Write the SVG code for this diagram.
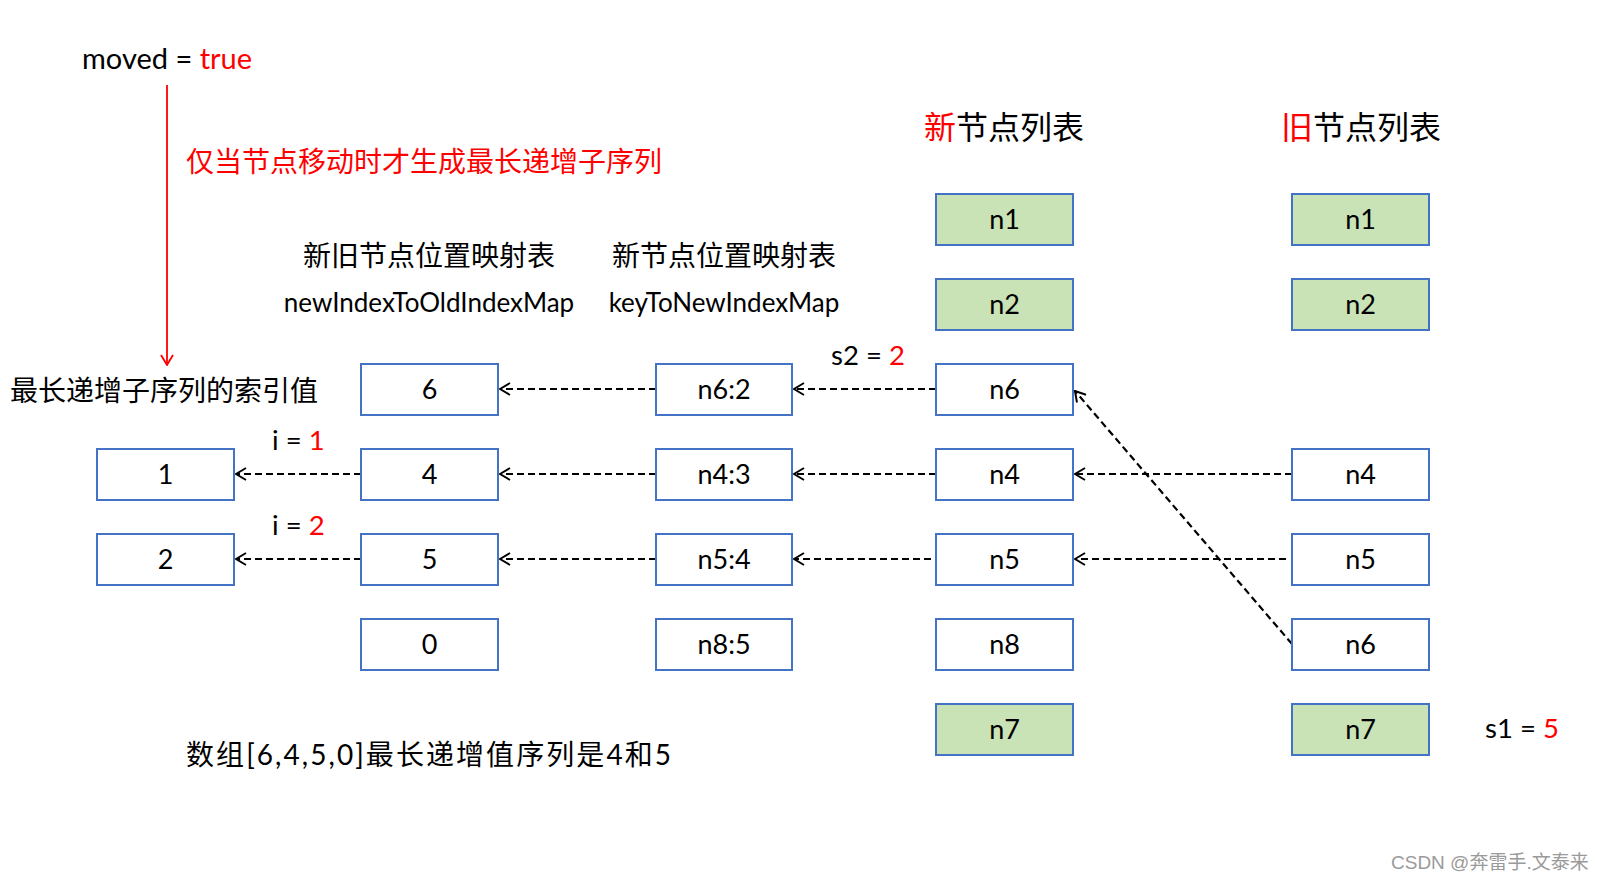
<svg xmlns="http://www.w3.org/2000/svg" width="1604" height="882" viewBox="0 0 1604 882">
<style>
.box{fill:#fff;stroke:#4472C4;stroke-width:2}
.g{fill:#C9E3B7}
.lbl{font-family:Lato,"Noto Sans CJK SC",sans-serif;font-size:27px;fill:#000;text-anchor:middle}
.cn{font-family:Lato,"Noto Sans CJK SC",sans-serif;font-size:28px;fill:#000}
.en{font-family:Lato,"Noto Sans CJK SC",sans-serif;font-size:26px;fill:#000}
.red{fill:#FF0000}
.c{stroke:#000;stroke-width:2.2;stroke-dasharray:7,4;fill:none;marker-end:url(#ah)}
</style>
<defs>
<marker id="ah" viewBox="-12 -7 13 14" refX="0" refY="0" markerWidth="13" markerHeight="14" markerUnits="userSpaceOnUse" orient="auto">
<path d="M-10,-6 L0,0 L-10,6" fill="none" stroke="#000" stroke-width="2"/>
</marker>
<marker id="rah" viewBox="-12 -7 13 14" refX="0" refY="0" markerWidth="13" markerHeight="14" markerUnits="userSpaceOnUse" orient="auto">
<path d="M-10,-6 L0,0 L-10,6" fill="none" stroke="#FF0000" stroke-width="1.8"/>
</marker>
</defs>
<rect width="1604" height="882" fill="#fff"/>

<g id="titles">
<text x="82" y="69" class="cn" style="font-size:29px">moved = <tspan class="red">true</tspan></text>
<text x="186" y="172" class="cn red">仅当节点移动时才生成最长递增子序列</text>
<text x="429" y="266" class="cn" text-anchor="middle">新旧节点位置映射表</text>
<text x="429" y="312" class="en" text-anchor="middle">newIndexToOldIndexMap</text>
<text x="724" y="266" class="cn" text-anchor="middle">新节点位置映射表</text>
<text x="724" y="312" class="en" text-anchor="middle">keyToNewIndexMap</text>
<text x="1004" y="139" class="cn" style="font-size:32px" text-anchor="middle"><tspan class="red">新</tspan>节点列表</text>
<text x="1361" y="139" class="cn" style="font-size:32px" text-anchor="middle"><tspan class="red">旧</tspan>节点列表</text>
<text x="10" y="401" class="cn">最长递增子序列的索引值</text>
<text x="272" y="450" class="cn" style="font-size:27.5px">i = <tspan class="red">1</tspan></text>
<text x="272" y="535" class="cn" style="font-size:27.5px">i = <tspan class="red">2</tspan></text>
<text x="831" y="365" class="cn" style="font-size:27.5px">s2 = <tspan class="red">2</tspan></text>
<text x="1485" y="738" class="cn" style="font-size:27.5px">s1 = <tspan class="red">5</tspan></text>
<text x="186" y="765" class="cn" textLength="485" lengthAdjust="spacing">数组[6,4,5,0]最长递增值序列是4和5</text>
<text x="1391" y="869" style="font-family:'Liberation Sans','Noto Sans CJK SC',sans-serif;font-size:19px;fill:#9a9a9a">CSDN @奔雷手.文泰来</text>
</g>

<g id="connectors">
<line x1="167" y1="85" x2="167" y2="365" stroke="#FF0000" stroke-width="1.8" marker-end="url(#rah)"/>
<line class="c" x1="936" y1="389" x2="794" y2="389"/>
<line class="c" x1="656" y1="389" x2="500" y2="389"/>
<line class="c" x1="1292" y1="474" x2="1075" y2="474"/>
<line class="c" x1="936" y1="474" x2="794" y2="474"/>
<line class="c" x1="656" y1="474" x2="500" y2="474"/>
<line class="c" x1="361" y1="474" x2="236" y2="474"/>
<line class="c" x1="1286" y1="559" x2="1075" y2="559"/>
<line class="c" x1="931" y1="559" x2="794" y2="559"/>
<line class="c" x1="656" y1="559" x2="500" y2="559"/>
<line class="c" x1="361" y1="559" x2="236" y2="559"/>
<line class="c" x1="1292" y1="644" x2="1075" y2="391"/>
</g>

<g id="new-n1"><rect class="box g" x="936" y="194" width="137" height="51"/><text class="lbl" x="1004.5" y="229">n1</text></g>
<g id="new-n2"><rect class="box g" x="936" y="279" width="137" height="51"/><text class="lbl" x="1004.5" y="314">n2</text></g>
<g id="new-n6"><rect class="box" x="936" y="364" width="137" height="51"/><text class="lbl" x="1004.5" y="399">n6</text></g>
<g id="new-n4"><rect class="box" x="936" y="449" width="137" height="51"/><text class="lbl" x="1004.5" y="484">n4</text></g>
<g id="new-n5"><rect class="box" x="936" y="534" width="137" height="51"/><text class="lbl" x="1004.5" y="569">n5</text></g>
<g id="new-n8"><rect class="box" x="936" y="619" width="137" height="51"/><text class="lbl" x="1004.5" y="654">n8</text></g>
<g id="new-n7"><rect class="box g" x="936" y="704" width="137" height="51"/><text class="lbl" x="1004.5" y="739">n7</text></g>

<g id="old-n1"><rect class="box g" x="1292" y="194" width="137" height="51"/><text class="lbl" x="1360.5" y="229">n1</text></g>
<g id="old-n2"><rect class="box g" x="1292" y="279" width="137" height="51"/><text class="lbl" x="1360.5" y="314">n2</text></g>
<g id="old-n4"><rect class="box" x="1292" y="449" width="137" height="51"/><text class="lbl" x="1360.5" y="484">n4</text></g>
<g id="old-n5"><rect class="box" x="1292" y="534" width="137" height="51"/><text class="lbl" x="1360.5" y="569">n5</text></g>
<g id="old-n6"><rect class="box" x="1292" y="619" width="137" height="51"/><text class="lbl" x="1360.5" y="654">n6</text></g>
<g id="old-n7"><rect class="box g" x="1292" y="704" width="137" height="51"/><text class="lbl" x="1360.5" y="739">n7</text></g>

<g id="key-n6"><rect class="box" x="656" y="364" width="136" height="51"/><text class="lbl" x="724" y="399">n6:2</text></g>
<g id="key-n4"><rect class="box" x="656" y="449" width="136" height="51"/><text class="lbl" x="724" y="484">n4:3</text></g>
<g id="key-n5"><rect class="box" x="656" y="534" width="136" height="51"/><text class="lbl" x="724" y="569">n5:4</text></g>
<g id="key-n8"><rect class="box" x="656" y="619" width="136" height="51"/><text class="lbl" x="724" y="654">n8:5</text></g>

<g id="idx-6"><rect class="box" x="361" y="364" width="137" height="51"/><text class="lbl" x="429.5" y="399">6</text></g>
<g id="idx-4"><rect class="box" x="361" y="449" width="137" height="51"/><text class="lbl" x="429.5" y="484">4</text></g>
<g id="idx-5"><rect class="box" x="361" y="534" width="137" height="51"/><text class="lbl" x="429.5" y="569">5</text></g>
<g id="idx-0"><rect class="box" x="361" y="619" width="137" height="51"/><text class="lbl" x="429.5" y="654">0</text></g>

<g id="lis-1"><rect class="box" x="97" y="449" width="137" height="51"/><text class="lbl" x="165.5" y="484">1</text></g>
<g id="lis-2"><rect class="box" x="97" y="534" width="137" height="51"/><text class="lbl" x="165.5" y="569">2</text></g>
</svg>
